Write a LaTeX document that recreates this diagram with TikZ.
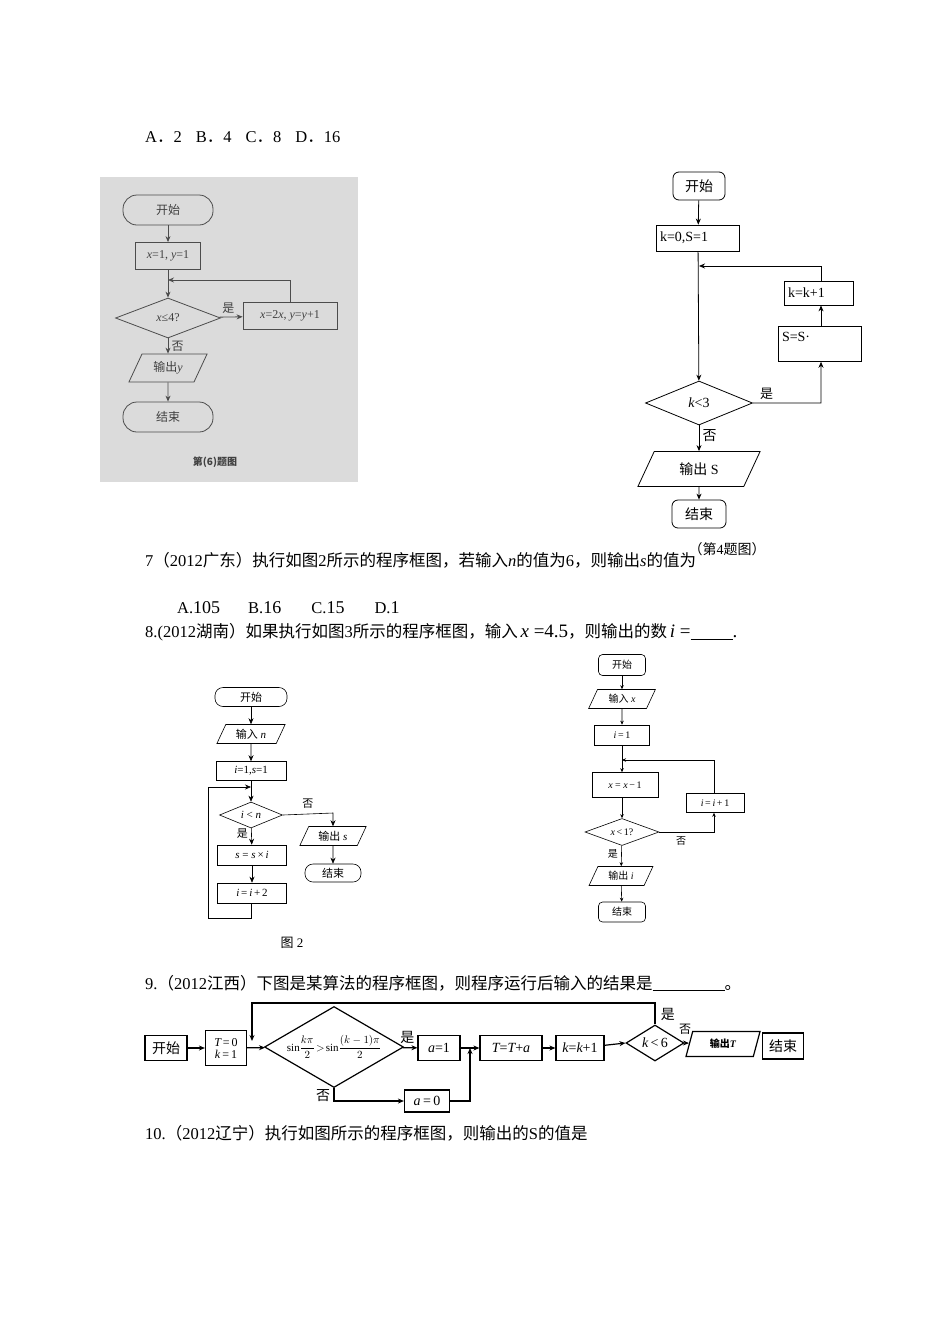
\documentclass[tikz,border=0pt]{standalone}
\usepackage{fontspec}
\setmainfont{Liberation Serif}
\newfontfamily\cjk{Noto Sans CJK SC}
\newcommand{\zh}[1]{{\cjk #1}}
\usetikzlibrary{shapes.geometric,arrows.meta}
\begin{document}
\begin{tikzpicture}[x=1pt,y=-1pt,font=\fontsize{14}{16}\selectfont,
 box/.style={draw,line width=0.8pt,minimum height=#1},
 rbox/.style={draw,rounded corners=6pt,line width=0.8pt},
 para/.style={draw,trapezium,trapezium left angle=65,trapezium right angle=115,line width=0.8pt},
 ar/.style={-{Stealth[length=6pt,width=5pt]},line width=0.8pt},
 ln/.style={line width=0.8pt},
 tx/.style={anchor=west,inner sep=0pt,font=\fontsize{16.5}{18}\selectfont}]
\useasboundingbox (0,0) rectangle (950,1344);
\fill[white] (0,0) rectangle (950,1344);
\node[tx] (t1) at (145,137) {A\zh{．}2\hspace{14pt}B\zh{．}4\hspace{14pt}C\zh{．}8\hspace{14pt}D\zh{．}16};
% photo chart
\fill[gray!28] (100,177) rectangle (358,482);
\begin{scope}[every node/.append style={font=\fontsize{12}{14}\selectfont},draw=gray!60!black,text=gray!50!black]
\node[rbox,draw=gray!60!black,minimum width=90,minimum height=30,rounded corners=14pt] (a1) at (168,210) {\zh{开始}};
\node[box=27,draw=gray!60!black,minimum width=65] (a2) at (168,256) {\itshape x\upshape=1, \itshape y\upshape=1};
\node[draw=gray!60!black,diamond,aspect=2.6,minimum width=105,minimum height=40,inner sep=0pt,line width=0.8pt] (a3) at (168,318) {\itshape x\upshape ≤4?};
\node[box=27,draw=gray!60!black,minimum width=94] (a4) at (290,316) {\itshape x\upshape=2\itshape x\upshape, \itshape y\upshape=\itshape y\upshape+1};
\node[para,draw=gray!60!black,minimum width=75,minimum height=28] (a5) at (168,368) {\zh{输出}\itshape y};
\node[rbox,draw=gray!60!black,minimum width=90,minimum height=30,rounded corners=14pt] (a6) at (168,417) {\zh{结束}};
\coordinate (a7) at (168,280);
\draw[ar,draw=gray!60!black] (a1) -- (a2);
\draw[ln,draw=gray!60!black] (a2) -- (a7);
\draw[ar,draw=gray!60!black] (a7) -- (a3);
\draw[ar,draw=gray!60!black] (a3) -- node[above,pos=0.4] (a8) {\zh{是}} (a4);
\draw[ar,draw=gray!60!black] (a4.north) |- (a7);
\draw[ar,draw=gray!60!black] (a3) -- node[right] (a9) {\zh{否}} (a5);
\draw[ar,draw=gray!60!black] (a5) -- (a6);
\node[font=\fontsize{10}{12}\selectfont\bfseries] (a10) at (215,462) {\zh{第(6)题图}};
\end{scope}
% top right chart
\node[rbox,minimum width=52,minimum height=28] (b1) at (699,186) {\zh{开始}};
\node[box=26,minimum width=82,align=left,text width=76] (b2) at (698,238) {k=0,S=1};
\node[box=24,minimum width=67,text width=62,align=left] (b3) at (819,293) {k=k+1};
\node[box=35,minimum width=82,text width=76,align=left,anchor=north] (b4) at (820,326) {S=S·\\[-2pt]\mbox{}};
\node[draw,diamond,aspect=2.4,minimum width=107,minimum height=44,inner sep=0pt,line width=0.8pt] (b5) at (699,403) {\itshape k\upshape<3};
\node[para,minimum width=48,minimum height=35,inner sep=2pt] (b6) at (699,469) {\zh{输出} S};
\node[rbox,minimum width=54,minimum height=28] (b7) at (699,514) {\zh{结束}};
\coordinate (b8) at (699,266);
\draw[ar] (b1) -- (b2);
\draw[ar] (b2) -- (b5);
\draw[ar] (b5.east) -- ++(68,0) node[pos=0.2,above,font=\fontsize{13}{14}\selectfont] (b9) {\zh{是}} -- (b4.south -| 821,0);
\draw[ar] (b4.north -| 821,0) -- (b3.south -| 821,0);
\draw[ar] (b3.north -| 821,0) |- (b8);
\draw[ar] (b5) -- node[right,pos=0.4] (b10) {\zh{否}} (b6);
\draw[ar] (b6) -- (b7);
\node (b11) at (727,549) {\zh{（第}4\zh{题图）}};
% text lines
\node[tx] (t2) at (145,560) {7\zh{（}2012\zh{广东）执行如图}2\zh{所示的程序框图，若输入}\itshape n\upshape\zh{的值为}6\zh{，则输出}\itshape s\upshape\zh{的值为}};
\node[tx] (t3) at (177,608) {A.\fontsize{18}{18}\selectfont 105\hspace{28pt}\fontsize{16.5}{16}\selectfont B.\fontsize{18}{18}\selectfont 16\hspace{30pt}\fontsize{16.5}{16}\selectfont C.\fontsize{18}{18}\selectfont 15\hspace{30pt}\fontsize{16.5}{16}\selectfont D.\fontsize{18}{18}\selectfont 1};
\node[tx] (t4) at (145,632) {8.(2012\zh{湖南）如果执行如图}3\zh{所示的程序框图，输入}\,\fontsize{19}{18}\selectfont\itshape x\upshape\ =4.5\fontsize{16.5}{16}\selectfont\zh{，则输出的数}\,\fontsize{19}{18}\selectfont\itshape i\upshape\ =\underline{\hspace{42pt}}.};
% chart 2
\begin{scope}[every node/.append style={font=\fontsize{11}{12}\selectfont},ln/.append style={line width=0.6pt},ar/.append style={line width=0.6pt}]
\node[rbox,minimum width=72,minimum height=19,rounded corners=8pt,line width=0.6pt] (c1) at (251,697) {\zh{开始}};
\node[para,minimum width=60,minimum height=19,line width=0.6pt,inner sep=1pt] (c2) at (251,734) {\zh{输入} \itshape n};
\node[box=19,minimum width=70,line width=0.6pt] (c3) at (251,771) {\itshape i\upshape=1,\itshape s\upshape=1};
\coordinate (c4) at (251,787);
\node[draw,diamond,aspect=2.4,minimum width=63,minimum height=26,inner sep=0pt,line width=0.6pt] (c5) at (251,815) {\itshape i\upshape\ < \itshape n};
\node[box=20,minimum width=69,line width=0.6pt] (c6) at (252,855) {\itshape s\upshape\ = \itshape s\upshape\,×\,\itshape i};
\node[box=20,minimum width=69,line width=0.6pt] (c7) at (252,893) {\itshape i\upshape\,=\,\itshape i\upshape\,+\,2};
\node[para,minimum width=55,minimum height=19,line width=0.6pt,inner sep=1pt] (c8) at (333,836) {\zh{输出} \itshape s};
\node[rbox,minimum width=56,minimum height=18,rounded corners=8pt,line width=0.6pt] (c9) at (333,873) {\zh{结束}};
\coordinate (c10) at (251,918);
\draw[ar] (c1) -- (c2);
\draw[ar] (c2) -- (c3);
\draw[ar] (c3) -- (c5);
\draw[ar] (c5) -- node[left,pos=0.35] (c11) {\zh{是}} (c6);
\draw[ar] (c6) -- (c7);
\draw[ar] (c7.south -| c10) -- (c10) -| (208,787) -- (c4);
\draw[ar] (c5.east) -- (333,813) node[pos=0.5,above=2pt] (c12) {\zh{否}} -- (c8);
\draw[ar] (c8) -- (c9);
\node[font=\fontsize{13}{14}\selectfont] (c13) at (292,943) {\zh{图} 2};
\end{scope}
% chart 3
\begin{scope}[every node/.append style={font=\fontsize{10}{12}\selectfont},ln/.append style={line width=0.6pt},ar/.append style={line width=0.6pt,-{Stealth[length=4pt,width=3.5pt]}}]
\node[rbox,minimum width=47,minimum height=21,rounded corners=4pt,line width=0.6pt] (d1) at (622,665) {\zh{开始}};
\node[para,minimum width=52,minimum height=19,line width=0.6pt,inner sep=1pt] (d2) at (622,699) {\zh{输入} \itshape x};
\node[box=20,minimum width=55,line width=0.6pt] (d3) at (622,735) {\itshape i\upshape\,=\,1};
\coordinate (d4) at (622,760);
\node[box=25,minimum width=66,line width=0.6pt] (d5) at (625,785) {\itshape x\upshape\ = \itshape x\upshape\,−\,1};
\node[box=19,minimum width=58,line width=0.6pt] (d6) at (715,803) {\itshape i\upshape\,=\,\itshape i\upshape\,+\,1};
\node[draw,diamond,aspect=2.8,minimum width=74,minimum height=27,inner sep=0pt,line width=0.6pt] (d7) at (622,832) {\itshape x\upshape\,<\,1?};
\node[para,minimum width=45,minimum height=19,line width=0.6pt,inner sep=1pt] (d8) at (621,876) {\zh{输出} \itshape i};
\node[rbox,minimum width=47,minimum height=20,rounded corners=4pt,line width=0.6pt] (d9) at (622,912) {\zh{结束}};
\draw[ar] (d1) -- (d2);
\draw[ar] (d2) -- (d3);
\draw[ln] (d3) -- (d4);
\draw[ar] (d4) -- (d5.north -| d4);
\draw[ar] (d5.south -| d4) -- (d7);
\draw[ar] (d7.east) -- (714,832) node[pos=0.4,below=1pt] (d10) {\zh{否}} -- (d6.south -| 714,0);
\draw[ar] (d6.north -| 714,0) |- (d4);
\draw[ar] (d7) -- node[left,pos=0.4] (d11) {\zh{是}} (d8);
\draw[ar] (d8) -- (d9);
\end{scope}
\node[tx] (t5) at (145,983) {9.\zh{（}2012\zh{江西）下图是某算法的程序框图，则程序运行后输入的结果是}\underline{\hspace{72pt}}\zh{。}};
% chart 4
\begin{scope}[every node/.append style={font=\fontsize{14}{14}\selectfont},ln/.append style={line width=1.2pt},ar/.append style={line width=1.2pt,-{Stealth[length=6pt,width=5pt]}}]
\node[box=25,minimum width=42,line width=1.2pt,inner sep=1pt] (e1) at (166,1048) {\zh{开始}};
\node[box=35,minimum width=41,line width=1.2pt,inner sep=1pt,align=center,font=\fontsize{12}{12}\selectfont] (e2) at (226,1048) {\itshape T\upshape\,=\,0\\\itshape k\upshape\,=\,1};
\node[draw,diamond,minimum width=139,minimum height=81,inner sep=0pt,line width=1.2pt] (e3) at (334,1047) {};
\node[inner sep=0pt,font=\fontsize{11}{12}\selectfont] (e3t) at (334,1047) {$\displaystyle\sin\!\frac{k\pi}{2}\!>\!\sin\!\frac{(k-1)\pi}{2}$};
\node[box=25,minimum width=42,line width=1.2pt,inner sep=1pt] (e4) at (439,1048) {\itshape a\upshape=1};
\node[box=25,minimum width=62,line width=1.2pt,inner sep=1pt] (e5) at (511,1048) {\itshape T\upshape=\itshape T\upshape+\itshape a};
\node[box=25,minimum width=48,line width=1.2pt,inner sep=1pt] (e6) at (580,1048) {\itshape k\upshape=\itshape k\upshape+1};
\node[draw,diamond,minimum width=58,minimum height=36,inner sep=0pt,line width=1.2pt] (e7) at (655,1043) {\itshape k\upshape\,<\,6};
\node[para,minimum width=44,minimum height=25,line width=1.2pt,inner sep=1pt,trapezium left angle=75,trapezium right angle=105,font=\fontsize{10}{12}\selectfont\bfseries] (e8) at (723,1044) {\zh{输出}\itshape T};
\node[box=26,minimum width=41,line width=1.2pt,inner sep=1pt] (e9) at (783,1046) {\zh{结束}};
\node[box=22,minimum width=45,line width=1.2pt,inner sep=1pt] (e10) at (427,1101) {\itshape a\upshape\,=\,0};
\coordinate (e11) at (252,1048);
\coordinate (e12) at (470,1048);
\draw[ar] (e1) -- (e2);
\draw[ar] (e2) -- (e3);
\draw[ar] (e3) -- node[above,pos=0.3] (e13) {\zh{是}} (e4);
\draw[ar] (e4) -- (e5);
\draw[ar] (e5) -- (e6);
\draw[ar] (e6) -- (e7.west);
\draw[ar] (e7.east) -- (e8);
\node[font=\fontsize{12}{12}\selectfont] (e14) at (685,1029) {\zh{否}};
\draw[ar] (e7.north) -- (655,1003) node[pos=0.45,right=2pt] (e15) {\zh{是}} -- (252,1003) -- (252,1041);
\draw[ar] (e3.south) |- node[pos=0.3,left] (e16) {\zh{否}} (e10);
\draw[ar] (e10.east) -| (e12);
\end{scope}
\node[tx] (t6) at (145,1133) {10.\zh{（}2012\zh{辽宁）执行如图所示的程序框图，则输出的}S\zh{的值是}};
\end{tikzpicture}
\end{document}
